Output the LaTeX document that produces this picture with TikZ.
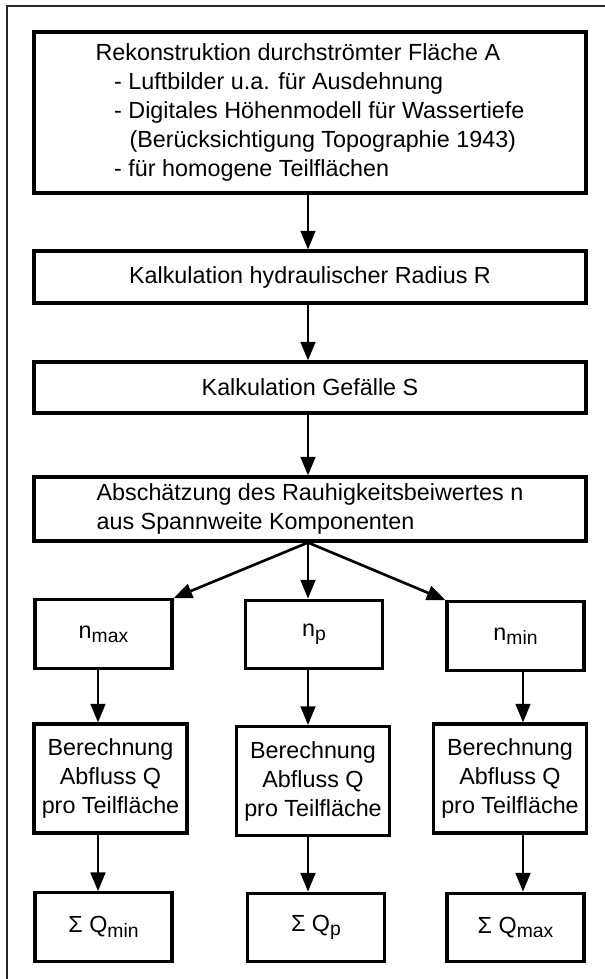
\documentclass[tikz,border=0pt]{standalone}
\usepackage{fontspec}
\setmainfont{Liberation Sans}
\usetikzlibrary{arrows.meta}
\newcommand{\lowidx}[1]{\raisebox{-0.35ex}{\fontsize{14.5}{14.5}\selectfont #1}}

\begin{document}
\begin{tikzpicture}
        [x=0.75pt, y=-0.75pt,
        font=\fontsize{17.5}{21.75}\selectfont,
        box/.style={rectangle, draw=black, line width=2.3pt, inner sep=0pt},
        wide/.style={box, minimum width=414pt},
        small/.style={box, minimum width=102.75pt, minimum height=51.5pt},
        calc/.style={box, minimum width=114.75pt, minimum height=81.75pt, align=center},
        arr/.style={-{Triangle[length=14pt, width=11pt]}, line width=2pt}]
        \useasboundingbox (0, 0) rectangle (605, 979);
        % outer frame, only left and top edge visible
        \draw[line width=1.2pt, draw=black!85] (7, 985) -- (7, 6) -- (612, 6);
        \coordinate (colL) at (98, 0);
        \coordinate (colM) at (308, 0);
        \coordinate (colR) at (523, 0);
        \node (recon) at (310, 112.5) [wide, minimum height=120.75pt, align=left]
          {Rekonstruktion durchströmter Fläche A\\
           \hspace*{14pt}- Luftbilder u.a. für Ausdehnung\\
           \hspace*{14pt}- Digitales Höhenmodell für Wassertiefe\\
           \hspace*{25.5pt}(Berücksichtigung Topographie 1943)\\
           \hspace*{14pt}- für homogene Teilflächen};
        \node (kalkR) at (310, 277) [wide, minimum height=39pt] {Kalkulation hydraulischer Radius R};
        \node (kalkS) at (310, 387.5) [wide, minimum height=38.25pt] {Kalkulation Gefälle S};
        \node (schaetz) at (310, 509) [wide, minimum height=48pt, align=left]
          {Abschätzung des Rauhigkeitsbeiwertes n\\ aus Spannweite Komponenten};
        \node (nmax) at (103.5, 634) [small] {n\lowidx{max}};
        \node (np) at (314, 634.5) [small] {n\lowidx{p}};
        \node (nmin) at (515.5, 636) [small] {n\lowidx{min}};
        \node (berL) at (110.5, 778.5) [calc] {Berechnung\\ Abfluss Q\\ pro Teilfläche};
        \node (berM) at (313, 781) [calc] {Berechnung\\ Abfluss Q\\ pro Teilfläche};
        \node (berR) at (510, 778.5) [calc] {Berechnung\\ Abfluss Q\\ pro Teilfläche};
        \node (sumL) at (103.5, 927) [small] {Σ Q\lowidx{min}};
        \node (sumM) at (316, 927.5) [small] {Σ Q\lowidx{p}};
        \node (sumR) at (515.5, 927.5) [small] {Σ Q\lowidx{max}};
        \path (recon.south -| colM) edge[arr] (kalkR.north -| colM);
        \path (kalkR.south -| colM) edge[arr] (kalkS.north -| colM);
        \path (kalkS.south -| colM) edge[arr] (schaetz.north -| colM);
        \path (schaetz.south -| colM)
          edge[arr] (nmax.north east)
          edge[arr] (np.north -| colM)
          edge[arr] (nmin.north west);
        \path (nmax.south -| colL) edge[arr] (berL.north -| colL);
        \path (np.south -| colM) edge[arr] (berM.north -| colM);
        \path (nmin.south -| colR) edge[arr] (berR.north -| colR);
        \path (berL.south -| colL) edge[arr] (sumL.north -| colL);
        \path (berM.south -| colM) edge[arr] (sumM.north -| colM);
        \path (berR.south -| colR) edge[arr] (sumR.north -| colR);
     \end{tikzpicture}
\end{document}
